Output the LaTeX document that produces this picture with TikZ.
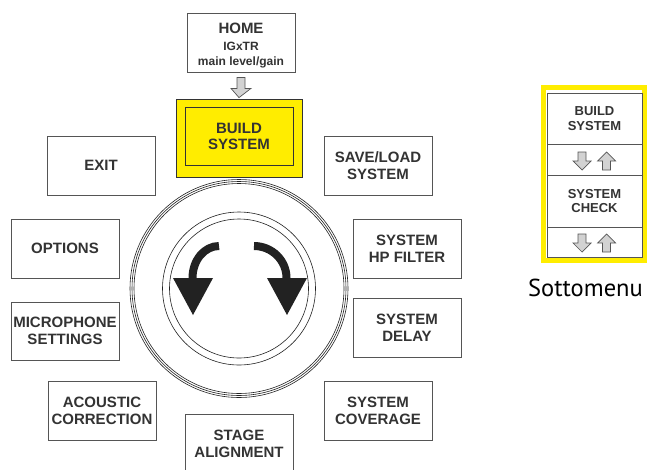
\documentclass[tikz,border=0pt]{standalone}
\usepackage{fontspec}
\setmainfont{Liberation Sans}
\newfontfamily\labfont{PT Sans}
\definecolor{txt}{HTML}{333333}
\definecolor{edge}{HTML}{555555}
\definecolor{yel}{HTML}{FFED00}
\definecolor{agray}{HTML}{D2D2D2}
\definecolor{knob}{HTML}{222222}
\tikzset{
  menubox/.style={draw=edge, line width=0.8pt, fill=white, text=txt, align=center,
    minimum width=108pt, minimum height=59pt, inner sep=0pt,
    font=\fontsize{15}{17}\selectfont\bfseries},
  subbox/.style={draw=edge, line width=0.8pt, fill=white, text=txt, align=center,
    minimum width=95pt, inner sep=0pt,
    font=\fontsize{13}{14.5}\selectfont\bfseries},
  ring/.style={draw=knob, line width=0.6pt},
  blockarrow/.style={draw=edge, line width=0.7pt, fill=agray, line join=miter},
}
\newcommand\downblk[2]{% center x, top y (18 high)
  \path[blockarrow] (#1-4,#2) -- (#1+4,#2) -- (#1+4,#2+9) -- (#1+9,#2+9) -- (#1,#2+18) -- (#1-9,#2+9) -- (#1-4,#2+9) -- cycle;}
\newcommand\upblk[2]{% center x, top y (18 high)
  \path[blockarrow] (#1,#2) -- (#1+9,#2+9) -- (#1+4,#2+9) -- (#1+4,#2+18) -- (#1-4,#2+18) -- (#1-4,#2+9) -- (#1-9,#2+9) -- cycle;}
\begin{document}
\begin{tikzpicture}[x=1pt,y=-1pt]
\useasboundingbox (0,0) rectangle (660,469);
\clip (0,0) rectangle (660,469);
\fill[white] (0,0) rectangle (660,469);

% knob
\coordinate (c) at (239,288.5);
\foreach \r in {109,107,105,76.5,69.5} \draw[ring] (c) circle[radius=\r];
\draw[knob, line width=8pt] (219,246) arc[start angle=270, end angle=180, x radius=26.5, y radius=32];
\fill[knob] (173,278) -- (213,278) -- (193,315) -- cycle;
\draw[knob, line width=8pt] (254,246) arc[start angle=270, end angle=360, x radius=32.5, y radius=32];
\fill[knob] (267,278) -- (307,278) -- (287,315) -- cycle;

% main menu boxes
\node[menubox] (home) at (241,42.5) {};
\node[text=txt, align=center, inner sep=0pt, font=\fontsize{15}{16}\selectfont\bfseries] (hometext) at (241,45.6)
  {HOME\\[1pt]{\fontsize{12}{14}\selectfont IGxTR}\\[-1pt]{\fontsize{12}{14}\selectfont main level/gain}};
\node[menubox, fill=yel, draw=txt, minimum width=126pt, minimum height=78pt] (build) at (239,138) {};
\node[draw=txt, line width=0.6pt, minimum width=108pt, minimum height=58pt, inner sep=0pt, align=center, text=txt,
  font=\fontsize{15}{16}\selectfont\bfseries] (buildin) at (239,136) {BUILD\\SYSTEM};
\node[menubox] (exit) at (101,165.5) {EXIT};
\node[menubox] (options) at (65,248.5) {OPTIONS};
\node[menubox, minimum height=58pt] (mic) at (65,331) {MICROPHONE\\SETTINGS};
\node[menubox] (acoustic) at (102,410.5) {ACOUSTIC\\CORRECTION};
\node[menubox] (save) at (378,165.5) {SAVE/LOAD\\SYSTEM};
\node[menubox] (hp) at (407,248.5) {SYSTEM\\HP FILTER};
\node[menubox] (delay) at (407,327.5) {SYSTEM\\DELAY};
\node[menubox] (cover) at (378,410.5) {SYSTEM\\COVERAGE};
\node[menubox] (stage) at (239,443.5) {STAGE\\ALIGNMENT};

% HOME -> BUILD block arrow
\path[blockarrow] ([xshift=-4pt,yshift=-5pt]home.south) -- ([xshift=4pt,yshift=-5pt]home.south)
  -- ([xshift=4pt,yshift=-16pt]home.south) -- ([xshift=10pt,yshift=-16pt]home.south)
  -- ([yshift=1pt]build.north) -- ([xshift=-10pt,yshift=-16pt]home.south)
  -- ([xshift=-4pt,yshift=-16pt]home.south) -- cycle;

% submenu
\draw[yel, line width=5pt] (543.5,87.5) rectangle (644.5,260.5);
\draw[edge, line width=0.8pt, fill=white] (547,93) rectangle (642,257);
\node[subbox, minimum height=51pt] (sbuild) at (594.5,118.5) {BUILD\\SYSTEM};
\node[subbox, minimum height=52pt] (scheck) at (594.5,201) {SYSTEM\\CHECK};
\downblk{582}{152}
\upblk{606.5}{152}
\downblk{582}{234}
\upblk{606.5}{234}
\node[text=black, inner sep=0pt, anchor=base, font=\labfont\fontsize{24.5}{28}\selectfont] (sotto) at (585.5,296) {Sottomenu};
\end{tikzpicture}
\end{document}
